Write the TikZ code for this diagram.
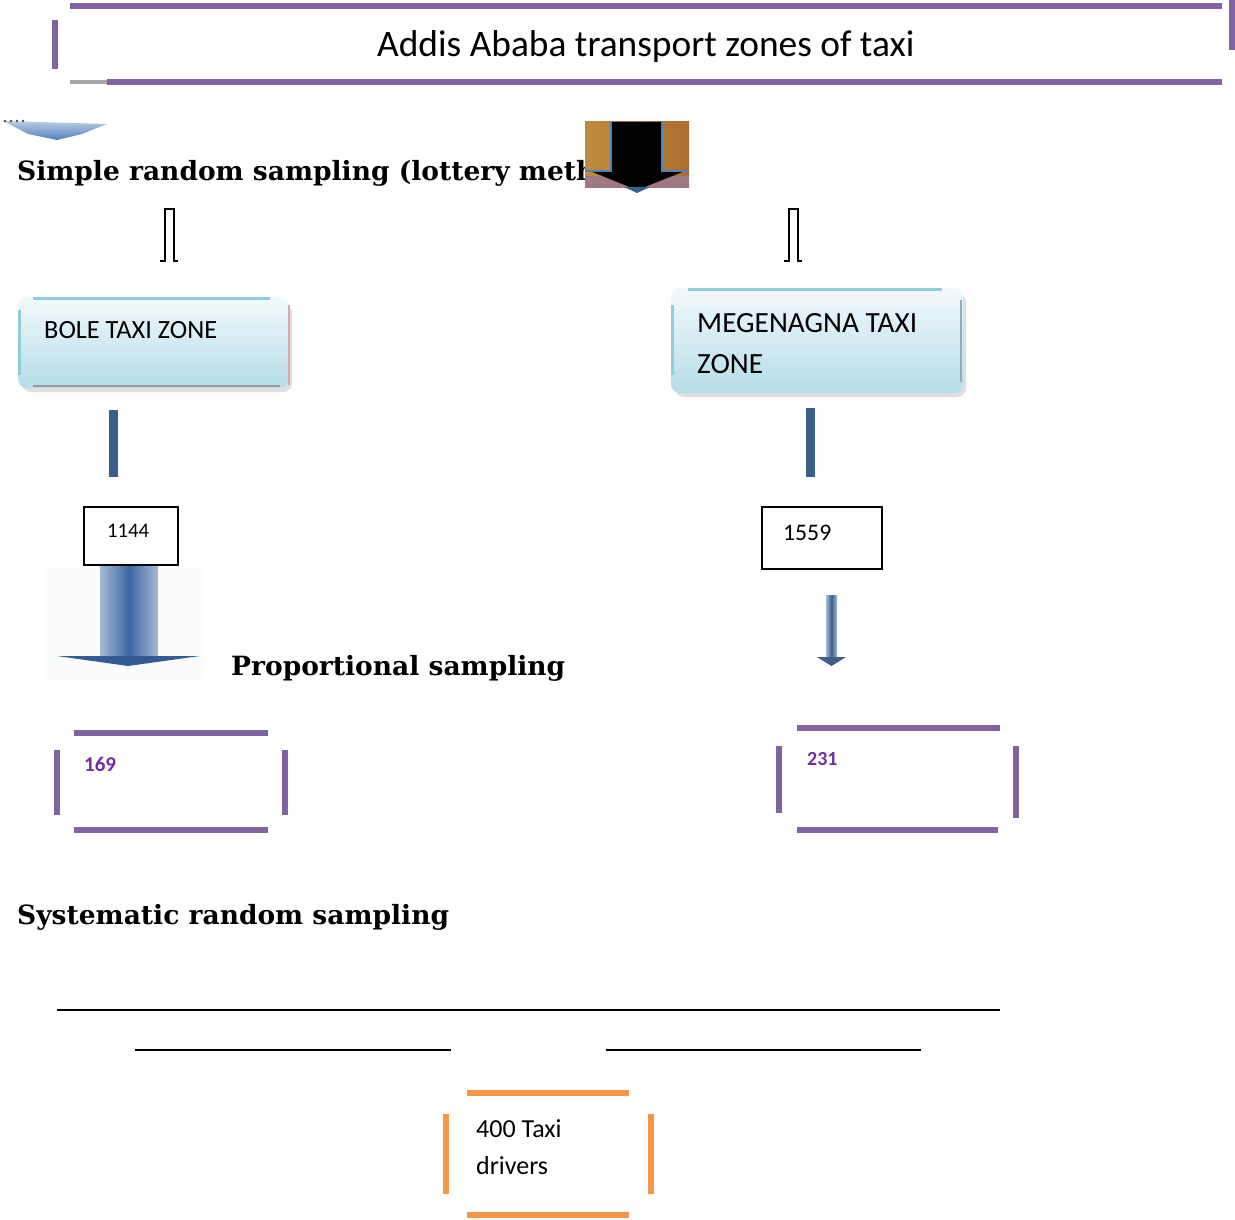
\documentclass[tikz,border=0pt]{standalone}
\usepackage{fontspec}
\newfontfamily\calib{Carlito}
\newfontfamily\serb{DejaVu Serif}
\definecolor{purp}{HTML}{8064A2}
\definecolor{purptext}{HTML}{7030A0}
\definecolor{orng}{HTML}{F79646}
\definecolor{teal}{HTML}{92CDDC}
\definecolor{boxbot}{HTML}{B5DDE8}
\definecolor{boxtop}{HTML}{F2F9FB}
\definecolor{darkblue}{HTML}{3A5F8C}
\definecolor{arrblue}{HTML}{3B66A2}
\definecolor{ltblue}{HTML}{4F81BD}
\definecolor{picleft}{RGB}{190,140,60}
\definecolor{picright}{RGB}{175,110,50}
\definecolor{picbot}{RGB}{160,120,130}
\definecolor{pinkedge}{RGB}{217,170,170}
\definecolor{blueedge}{RGB}{140,175,195}
\definecolor{glow}{RGB}{250,252,254}
\tikzset{
  purpline/.style={line width=6pt, draw=purp},
  orngline/.style={line width=6pt, draw=orng},
  sertext/.style={inner sep=0pt, anchor=base west, font=\serb\fontsize{26.5}{32}\selectfont\bfseries},
  caltext/.style={inner sep=0pt, anchor=base west},
  zonebox/.style={rounded corners=9pt, top color=boxtop, bottom color=boxbot},
  numbox/.style={draw=black, line width=1.4pt, inner sep=0pt},
  barstyle/.style={fill=darkblue, draw=none},
  outarrow/.style={draw=black, line width=2pt, line cap=butt},
  plainline/.style={draw=black, line width=2pt}
}
\begin{document}
\begin{tikzpicture}[x=1pt,y=-1pt]
\useasboundingbox (0,0) rectangle (1235,1220);
\fill[white] (0,0) rectangle (1235,1220);

% ---- title box ----
\draw[purpline] (70,6) -- (1222,6);
\draw[purpline] (107,82) -- (1222,82);
\draw[line width=4pt, draw=gray!70] (70,82) -- (107,82);
\draw[purpline] (55,20) -- (55,69);
\draw[purpline] (1232,0) -- (1232,50);
\node[caltext, font=\calib\fontsize{37.4}{44}\selectfont] (title) at (377,57) {Addis Ababa transport zones of taxi};

% ---- small chevron top-left ----
\coordinate (chev) at (55,130);
\shade[top color=ltblue!40, bottom color=ltblue] (3,121) -- (107,124) -- (82,134) -- (57,140) -- (28,134) -- cycle;
\foreach \dx in {5,11,17,23} \fill[black!70] (\dx,121) circle (1.3pt);

% ---- simple random sampling text ----
\node[sertext] (srs) at (17,181) {Simple random sampling (lottery meth};

% ---- picture arrow ----
\coordinate (pic) at (637,157);
\shade[left color=picleft, right color=picright] (585,122) rectangle (689,188);
\fill[picbot] (585,176) rectangle (689,188);
\fill[black] (611,122) -- (662,122) -- (662,171) -- (685,171) -- (637,190) -- (590,171) -- (611,171) -- cycle;
\draw[ltblue, line width=2.5pt] (611,122) -- (611,171) -- (585,171);
\draw[ltblue, line width=2.5pt] (662,122) -- (662,171) -- (689,171);
\fill[darkblue] (624,187) -- (650,187) -- (637,193) -- cycle;

% ---- outline arrows ----
\coordinate (oa1) at (169,235);
\coordinate (oa2) at (793,235);
\draw[outarrow] (160,261) -- (164.5,261) -- (164.5,209) -- (173.5,209) -- (173.5,261) -- (178,261);
\draw[outarrow] (784,261) -- (788.5,261) -- (788.5,209) -- (797.5,209) -- (797.5,261) -- (802,261);

% ---- zone boxes ----
\fill[gray!25, rounded corners=9pt] (22,304) rectangle (292,392);
\path[zonebox] (18,297) rectangle (289,388);
\draw[teal, line width=3pt] (33,298) -- (270,298);
\draw[teal, line width=3pt] (19.5,310) -- (19.5,375);
\draw[pinkedge, line width=1.5pt] (289,305) -- (289,385);
\draw[gray!80, line width=2pt] (33,386) -- (280,386);
\node[caltext, font=\calib\fontsize{26.3}{30}\selectfont] (bole) at (44,338) {BOLE TAXI ZONE};

\fill[gray!25, rounded corners=9pt] (675,294) rectangle (966,397);
\path[zonebox] (671,288) rectangle (963,393);
\draw[teal, line width=3pt] (688,289) -- (942,289);
\draw[teal, line width=3pt] (672.5,305) -- (672.5,375);
\draw[blueedge, line width=2.5pt] (961,300) -- (961,382);
\node[caltext, font=\calib\fontsize{29.3}{34}\selectfont] (meg1) at (697,332) {MEGENAGNA TAXI};
\node[caltext, font=\calib\fontsize{29.3}{34}\selectfont] (meg2) at (697,373) {ZONE};

% ---- dark blue bars ----
\fill[barstyle] (109,410) rectangle (118,477);
\fill[barstyle] (806,408) rectangle (815,477);

% ---- big blue arrow (left) ----
\fill[glow] (45,568) rectangle (205,680);
\shade[left color=arrblue!45, right color=arrblue!45, middle color=arrblue] (100,565) rectangle (158,657);
\fill[arrblue!90!black] (57,656) -- (200,656) -- (128,666) -- cycle;

% ---- numbers boxes ----
\node[numbox, minimum width=94pt, minimum height=58pt] (b1144) at (131,536) {};
\node[caltext, font=\calib\fontsize{20.7}{25}\selectfont] (t1144) at (107,537.5) {1144};
\node[numbox, minimum width=120pt, minimum height=62pt] (b1559) at (822,538) {};
\node[caltext, font=\calib\fontsize{23.7}{28}\selectfont] (t1559) at (783,540.5) {1559};

% ---- small arrow (right) ----
\shade[left color=arrblue!45, right color=arrblue!45, middle color=darkblue] (826,595) rectangle (837,658);
\fill[darkblue] (817,657) -- (846,657) -- (831.5,666) -- cycle;

% ---- proportional sampling ----
\node[sertext] (prop) at (231,675) {Proportional sampling};

% ---- 169 box ----
\draw[purpline] (74,733) -- (268,733);
\draw[purpline] (74,830) -- (268,830);
\draw[purpline] (57,750) -- (57,815);
\draw[purpline] (285,750) -- (285,815);
\node[caltext, font=\calib\fontsize{21}{25}\selectfont\bfseries, text=purptext] (t169) at (84,771) {169};

% ---- 231 box ----
\draw[purpline] (797,728) -- (1000,728);
\draw[purpline] (797,830) -- (998,830);
\draw[purpline] (779,746) -- (779,813);
\draw[purpline] (1016,746) -- (1016,818);
\node[caltext, font=\calib\fontsize{20}{24}\selectfont\bfseries, text=purptext] (t231) at (807,765) {231};

% ---- systematic ----
\node[sertext] (sys) at (17,924) {Systematic random sampling};

% ---- lines ----
\draw[plainline] (57,1010) -- (1000,1010);
\draw[plainline] (135,1050) -- (451,1050);
\draw[plainline] (606,1050) -- (921,1050);

% ---- final box ----
\draw[orngline] (467,1093) -- (629,1093);
\draw[orngline] (467,1215) -- (629,1215);
\draw[orngline] (446,1114) -- (446,1194);
\draw[orngline] (651,1114) -- (651,1194);
\node[caltext, font=\calib\fontsize{26}{31}\selectfont] (t400a) at (476,1137) {400 Taxi};
\node[caltext, font=\calib\fontsize{26}{31}\selectfont] (t400b) at (476,1174) {drivers};
\end{tikzpicture}
\end{document}
